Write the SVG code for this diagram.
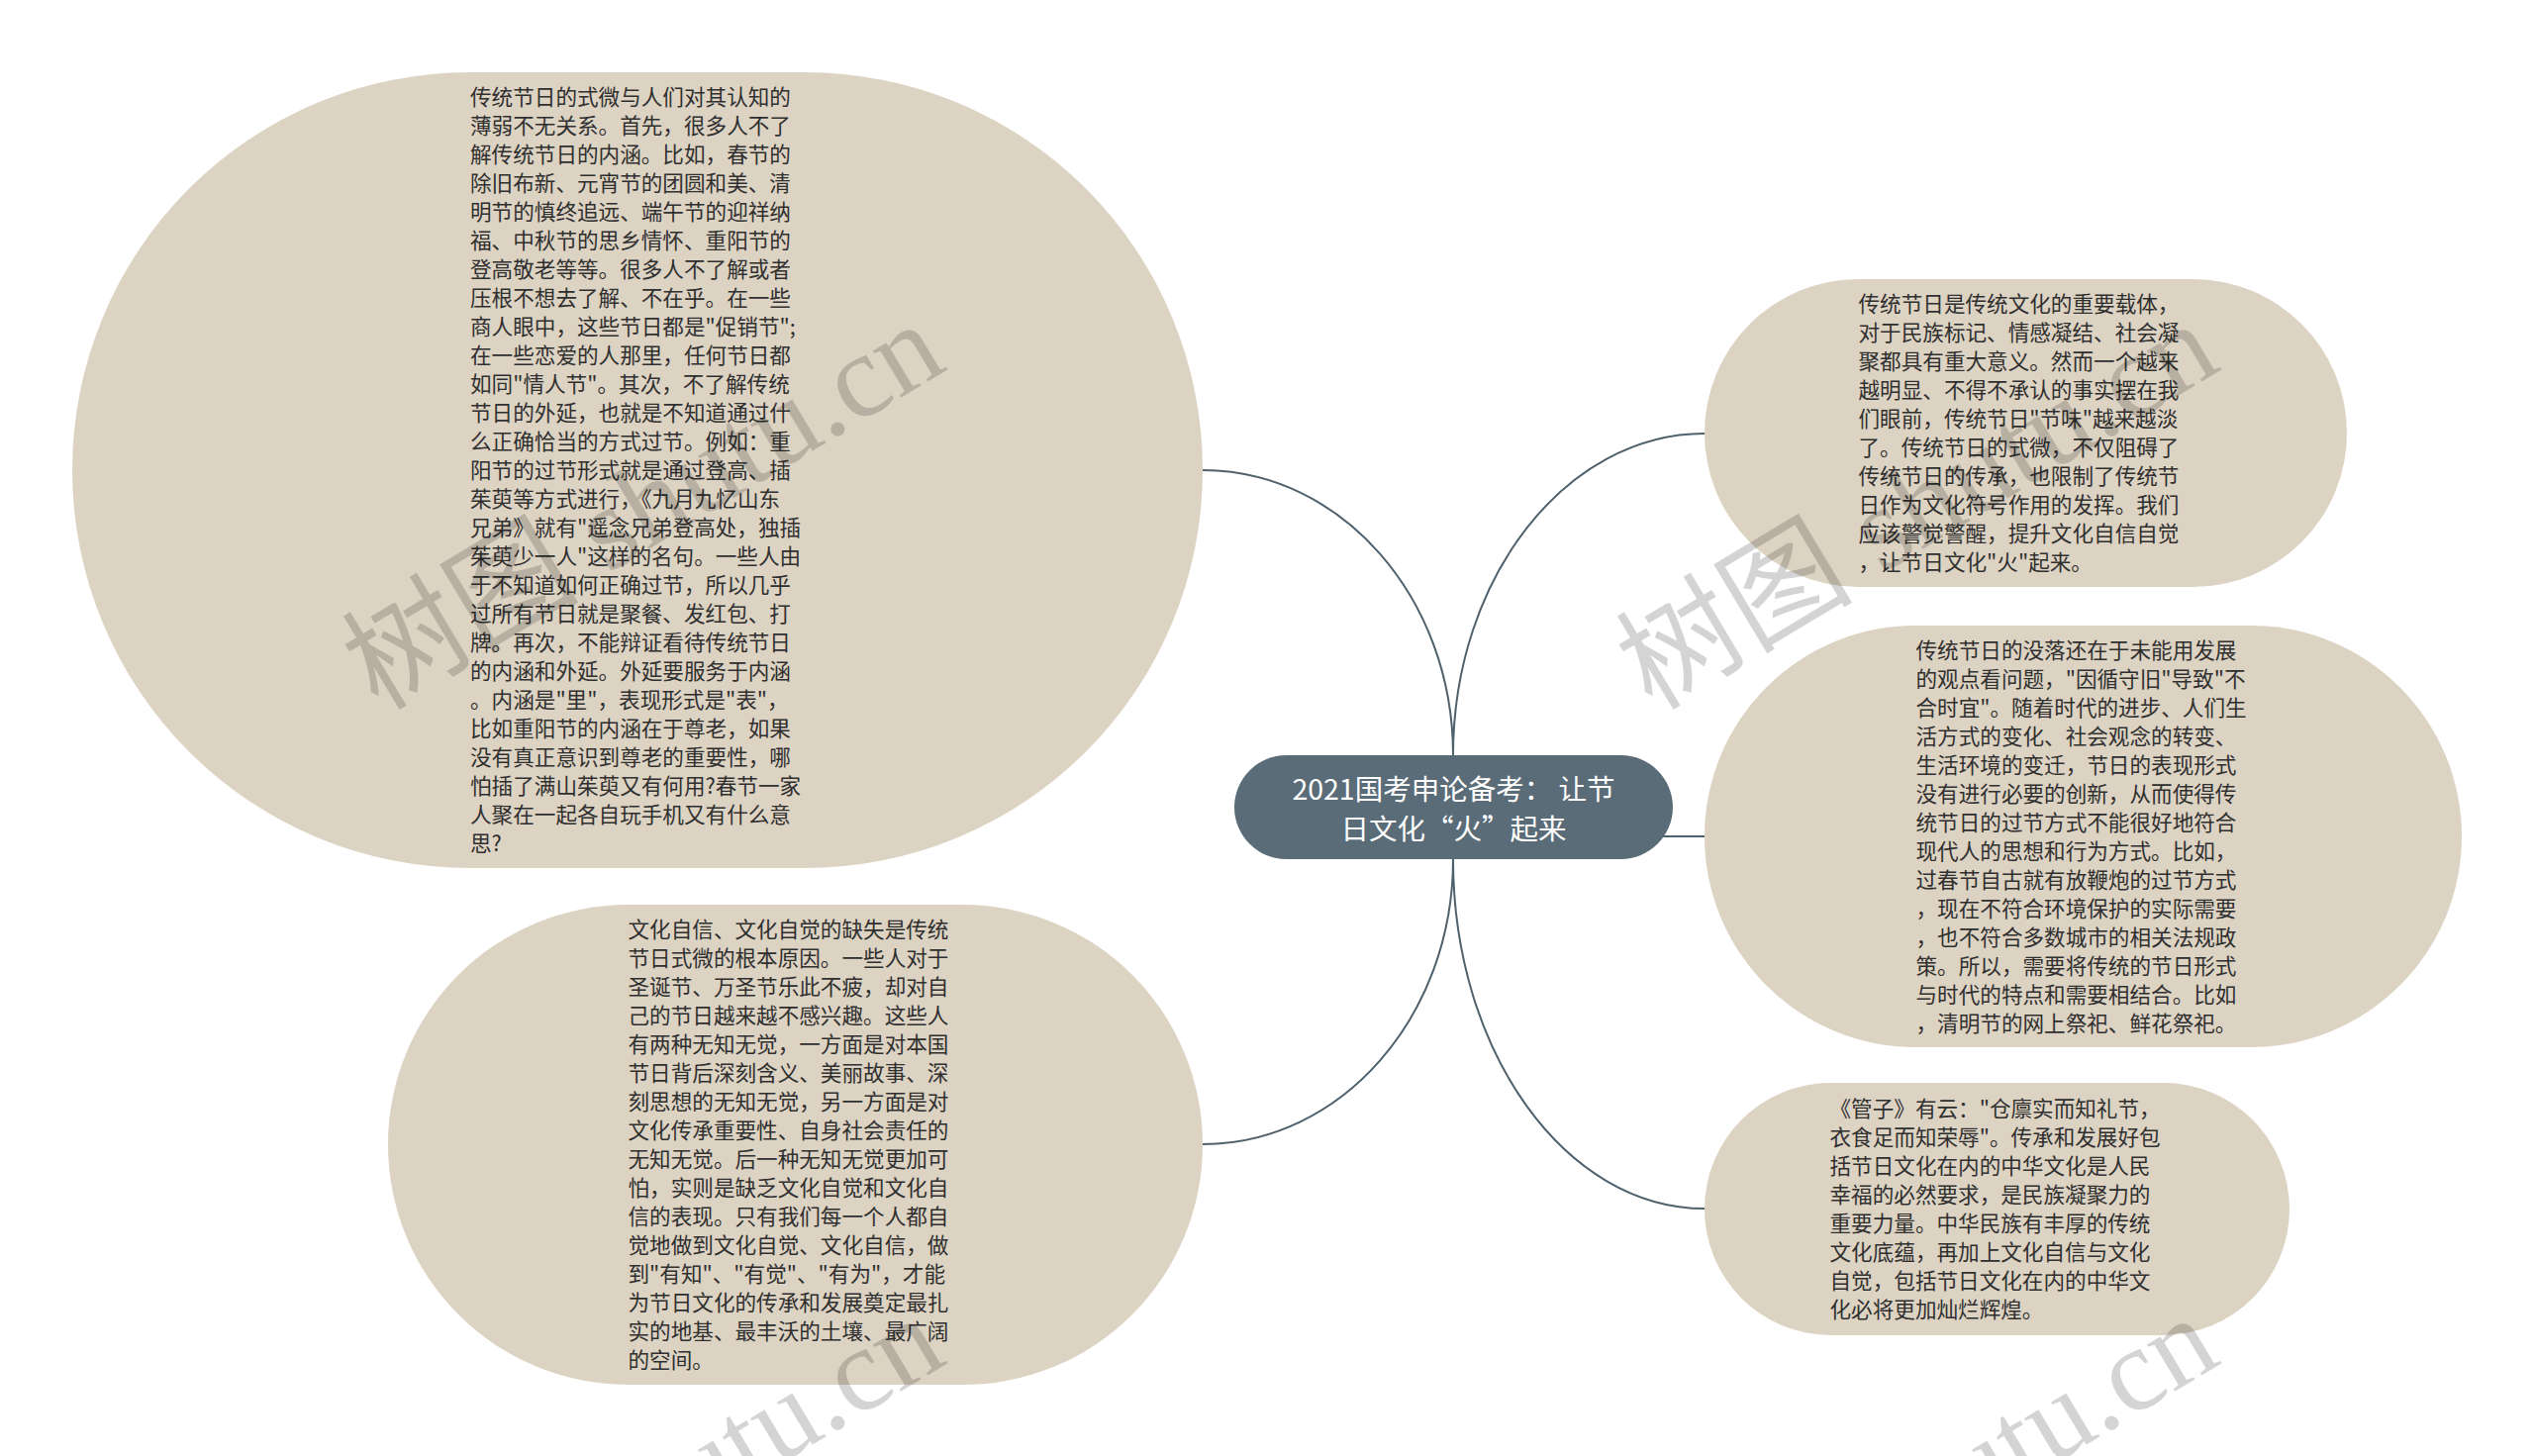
<svg xmlns="http://www.w3.org/2000/svg" width="2560" height="1471" viewBox="0 0 2560 1471">
<style>
.leaf{fill:#ddd3c3;}
.root{fill:#5a6c78;}
.t{font-family:"Noto Sans CJK SC","Noto Sans",sans-serif;font-size:21.6px;fill:#2f2f2f;}
.rt{font-family:"Noto Sans CJK SC","Noto Sans",sans-serif;font-size:28.5px;fill:#ffffff;text-anchor:middle;}
.edge{fill:none;stroke:#4f616d;stroke-width:2;}
.wm{font-family:"Liberation Serif","Noto Sans CJK SC",serif;font-size:120px;fill:#000;fill-opacity:0.17;}
</style>
<rect width="2560" height="1471" fill="#ffffff"/>
<g id="connectors">
<path class="edge" d="M1468,763 C1468,604 1355,475 1215,475"/>
<path class="edge" d="M1468,763 C1468,584 1582,438 1722,438"/>
<path class="edge" d="M1600,845 L1722,845"/>
<path class="edge" d="M1468,868 C1468,1063 1582,1221 1722,1221"/>
<path class="edge" d="M1468,868 C1468,1027 1355,1156 1215,1156"/>
</g>
<g id="node-root">
<rect class="root" x="1247" y="763" width="443" height="105" rx="52.5" ry="52.5"/>
<text class="rt"><tspan x="1468.5" y="807.5">2021国考申论备考： 让节</tspan><tspan x="1468.5" y="847.5">日文化“火”起来</tspan></text>
</g>
<g id="node-left-top">
<rect class="leaf" x="73" y="73" width="1142" height="804" rx="402" ry="402"/>
<text class="t"><tspan x="475" y="106.4">传统节日的式微与人们对其认知的</tspan><tspan x="475" dy="29">薄弱不无关系。首先，很多人不了</tspan><tspan x="475" dy="29">解传统节日的内涵。比如，春节的</tspan><tspan x="475" dy="29">除旧布新、元宵节的团圆和美、清</tspan><tspan x="475" dy="29">明节的慎终追远、端午节的迎祥纳</tspan><tspan x="475" dy="29">福、中秋节的思乡情怀、重阳节的</tspan><tspan x="475" dy="29">登高敬老等等。很多人不了解或者</tspan><tspan x="475" dy="29">压根不想去了解、不在乎。在一些</tspan><tspan x="475" dy="29">商人眼中，这些节日都是"促销节";</tspan><tspan x="475" dy="29">在一些恋爱的人那里，任何节日都</tspan><tspan x="475" dy="29">如同"情人节"。其次，不了解传统</tspan><tspan x="475" dy="29">节日的外延，也就是不知道通过什</tspan><tspan x="475" dy="29">么正确恰当的方式过节。例如：重</tspan><tspan x="475" dy="29">阳节的过节形式就是通过登高、插</tspan><tspan x="475" dy="29">茱萸等方式进行，《九月九忆山东</tspan><tspan x="475" dy="29">兄弟》就有"遥念兄弟登高处，独插</tspan><tspan x="475" dy="29">茱萸少一人"这样的名句。一些人由</tspan><tspan x="475" dy="29">于不知道如何正确过节，所以几乎</tspan><tspan x="475" dy="29">过所有节日就是聚餐、发红包、打</tspan><tspan x="475" dy="29">牌。再次，不能辩证看待传统节日</tspan><tspan x="475" dy="29">的内涵和外延。外延要服务于内涵</tspan><tspan x="475" dy="29">。内涵是"里"，表现形式是"表"，</tspan><tspan x="475" dy="29">比如重阳节的内涵在于尊老，如果</tspan><tspan x="475" dy="29">没有真正意识到尊老的重要性，哪</tspan><tspan x="475" dy="29">怕插了满山茱萸又有何用?春节一家</tspan><tspan x="475" dy="29">人聚在一起各自玩手机又有什么意</tspan><tspan x="475" dy="29">思?</tspan></text>
</g>
<g id="node-left-bottom">
<rect class="leaf" x="392" y="914" width="823" height="485" rx="242.5" ry="242.5"/>
<text class="t"><tspan x="634.5" y="947.2">文化自信、文化自觉的缺失是传统</tspan><tspan x="634.5" dy="29">节日式微的根本原因。一些人对于</tspan><tspan x="634.5" dy="29">圣诞节、万圣节乐此不疲，却对自</tspan><tspan x="634.5" dy="29">己的节日越来越不感兴趣。这些人</tspan><tspan x="634.5" dy="29">有两种无知无觉，一方面是对本国</tspan><tspan x="634.5" dy="29">节日背后深刻含义、美丽故事、深</tspan><tspan x="634.5" dy="29">刻思想的无知无觉，另一方面是对</tspan><tspan x="634.5" dy="29">文化传承重要性、自身社会责任的</tspan><tspan x="634.5" dy="29">无知无觉。后一种无知无觉更加可</tspan><tspan x="634.5" dy="29">怕，实则是缺乏文化自觉和文化自</tspan><tspan x="634.5" dy="29">信的表现。只有我们每一个人都自</tspan><tspan x="634.5" dy="29">觉地做到文化自觉、文化自信，做</tspan><tspan x="634.5" dy="29">到"有知"、"有觉"、"有为"，才能</tspan><tspan x="634.5" dy="29">为节日文化的传承和发展奠定最扎</tspan><tspan x="634.5" dy="29">实的地基、最丰沃的土壤、最广阔</tspan><tspan x="634.5" dy="29">的空间。</tspan></text>
</g>
<g id="node-right-1">
<rect class="leaf" x="1722" y="282" width="649" height="311" rx="155.5" ry="155.5"/>
<text class="t"><tspan x="1877.5" y="315.2">传统节日是传统文化的重要载体，</tspan><tspan x="1877.5" dy="29">对于民族标记、情感凝结、社会凝</tspan><tspan x="1877.5" dy="29">聚都具有重大意义。然而一个越来</tspan><tspan x="1877.5" dy="29">越明显、不得不承认的事实摆在我</tspan><tspan x="1877.5" dy="29">们眼前，传统节日"节味"越来越淡</tspan><tspan x="1877.5" dy="29">了。传统节日的式微，不仅阻碍了</tspan><tspan x="1877.5" dy="29">传统节日的传承，也限制了传统节</tspan><tspan x="1877.5" dy="29">日作为文化符号作用的发挥。我们</tspan><tspan x="1877.5" dy="29">应该警觉警醒，提升文化自信自觉</tspan><tspan x="1877.5" dy="29">，让节日文化"火"起来。</tspan></text>
</g>
<g id="node-right-2">
<rect class="leaf" x="1722" y="632" width="765" height="426" rx="213" ry="213"/>
<text class="t"><tspan x="1935.5" y="664.7">传统节日的没落还在于未能用发展</tspan><tspan x="1935.5" dy="29">的观点看问题，"因循守旧"导致"不</tspan><tspan x="1935.5" dy="29">合时宜"。随着时代的进步、人们生</tspan><tspan x="1935.5" dy="29">活方式的变化、社会观念的转变、</tspan><tspan x="1935.5" dy="29">生活环境的变迁，节日的表现形式</tspan><tspan x="1935.5" dy="29">没有进行必要的创新，从而使得传</tspan><tspan x="1935.5" dy="29">统节日的过节方式不能很好地符合</tspan><tspan x="1935.5" dy="29">现代人的思想和行为方式。比如，</tspan><tspan x="1935.5" dy="29">过春节自古就有放鞭炮的过节方式</tspan><tspan x="1935.5" dy="29">，现在不符合环境保护的实际需要</tspan><tspan x="1935.5" dy="29">，也不符合多数城市的相关法规政</tspan><tspan x="1935.5" dy="29">策。所以，需要将传统的节日形式</tspan><tspan x="1935.5" dy="29">与时代的特点和需要相结合。比如</tspan><tspan x="1935.5" dy="29">，清明节的网上祭祀、鲜花祭祀。</tspan></text>
</g>
<g id="node-right-3">
<rect class="leaf" x="1722" y="1094" width="591" height="255" rx="127.5" ry="127.5"/>
<text class="t"><tspan x="1848.5" y="1128.2">《管子》有云："仓廪实而知礼节，</tspan><tspan x="1848.5" dy="29">衣食足而知荣辱"。传承和发展好包</tspan><tspan x="1848.5" dy="29">括节日文化在内的中华文化是人民</tspan><tspan x="1848.5" dy="29">幸福的必然要求，是民族凝聚力的</tspan><tspan x="1848.5" dy="29">重要力量。中华民族有丰厚的传统</tspan><tspan x="1848.5" dy="29">文化底蕴，再加上文化自信与文化</tspan><tspan x="1848.5" dy="29">自觉，包括节日文化在内的中华文</tspan><tspan x="1848.5" dy="29">化必将更加灿烂辉煌。</tspan></text>
</g>
<g id="watermarks">
<text class="wm" transform="translate(382,719) rotate(-31)">树图 shutu.cn</text>
<text class="wm" transform="translate(1669,719) rotate(-31)">树图 shutu.cn</text>
<text class="wm" transform="translate(382,1723) rotate(-31)">树图 shutu.cn</text>
<text class="wm" transform="translate(1669,1723) rotate(-31)">树图 shutu.cn</text>
</g>
</svg>
